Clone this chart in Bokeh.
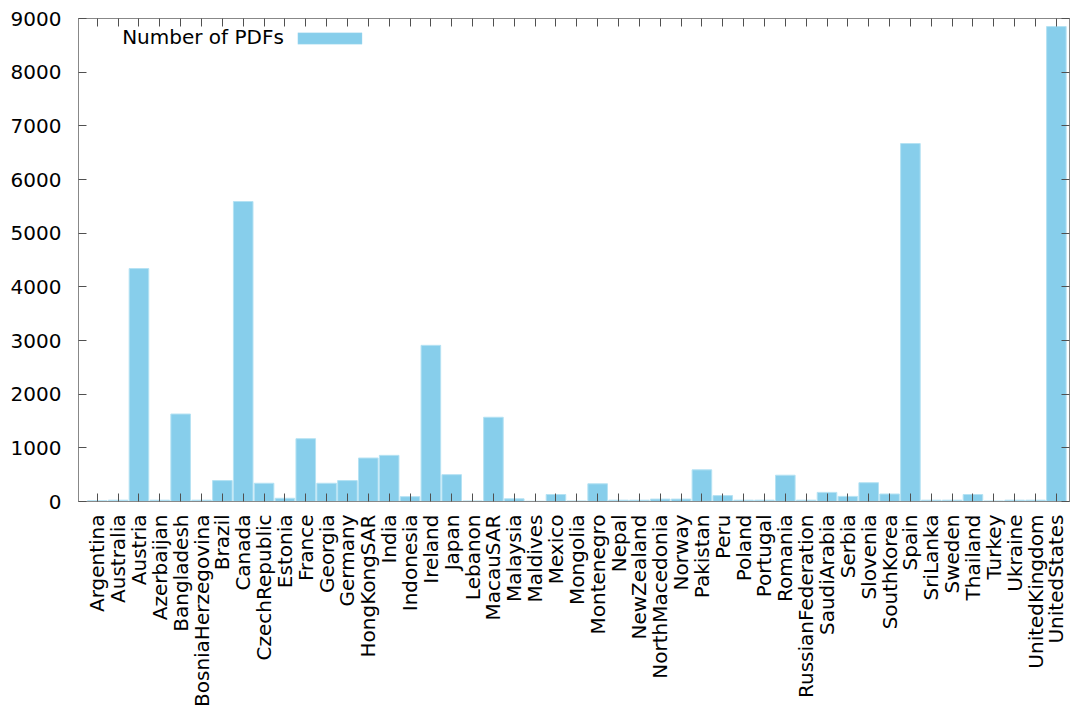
from bokeh.plotting import figure
from bokeh.models import Range1d, FixedTicker, LinearAxis, Label, BoxAnnotation, ColumnDataSource
from bokeh.embed import file_html
from bokeh.resources import INLINE
import math

countries = ["Argentina", "Australia", "Austria", "Azerbaijan", "Bangladesh",
             "BosniaHerzegovina", "Brazil", "Canada", "CzechRepublic", "Estonia",
             "France", "Georgia", "Germany", "HongKongSAR", "India", "Indonesia",
             "Ireland", "Japan", "Lebanon", "MacauSAR", "Malaysia", "Maldives",
             "Mexico", "Mongolia", "Montenegro", "Nepal", "NewZealand",
             "NorthMacedonia", "Norway", "Pakistan", "Peru", "Poland", "Portugal",
             "Romania", "RussianFederation", "SaudiArabia", "Serbia", "Slovenia",
             "SouthKorea", "Spain", "SriLanka", "Sweden", "Thailand", "Turkey",
             "Ukraine", "UnitedKingdom", "UnitedStates"]
pdfs = [15, 25, 4340, 25, 1630,
        25, 390, 5590, 340, 60,
        1170, 340, 390, 810, 860, 90,
        2910, 500, 10, 1570, 50, 5,
        130, 10, 330, 25, 25,
        45, 45, 590, 110, 25, 25,
        490, 25, 170, 95, 350,
        140, 6670, 25, 25, 130, 10,
        25, 25, 8850]
series_name = "Number of PDFs"
y_ticks = [0, 1000, 2000, 3000, 4000, 5000, 6000, 7000, 8000, 9000]

FONT = "DejaVu Sans"
AXIS_COLOR = "#888888"
TICK_COLOR = "#505050"

idx = list(range(len(countries)))
src = ColumnDataSource(dict(x=idx, top=pdfs, name=countries))

p = figure(width=1072, height=711, output_backend="svg", toolbar_location=None,
           x_range=Range1d(-0.9, len(countries) - 0.37), y_range=Range1d(0, 9000),
           min_border_left=78, min_border_right=3, min_border_top=18,
           min_border_bottom=210, x_axis_location="below", y_axis_location="left")

p.vbar(x="x", top="top", width=0.94, bottom=0, source=src,
       fill_color="#87CEEB", line_color="#b5e2f3", line_width=1)

p.xgrid.visible = False
p.ygrid.visible = False
p.outline_line_color = AXIS_COLOR
p.background_fill_color = "white"
p.border_fill_color = "white"

xt = FixedTicker(ticks=idx)
yt = FixedTicker(ticks=y_ticks)

xa = p.xaxis[0]
xa.ticker = xt
xa.major_label_overrides = {i: c for i, c in enumerate(countries)}
xa.major_label_orientation = math.pi / 2
xa.major_label_standoff = 13
ya = p.yaxis[0]
ya.ticker = yt
ya.major_label_standoff = 17

for ax in (xa, ya):
    ax.axis_line_color = AXIS_COLOR
    ax.major_tick_line_color = TICK_COLOR
    ax.major_tick_in = 8
    ax.major_tick_out = 0
    ax.minor_tick_line_color = None
    ax.major_label_text_font = FONT
    ax.major_label_text_font_size = "20px"
    ax.major_label_text_color = "black"

# mirrored tick axes (gnuplot border ticks), no labels
top_ax = LinearAxis(ticker=xt, major_label_overrides={i: "" for i in idx},
                    major_label_text_color=None,
                    axis_line_color=AXIS_COLOR, major_tick_line_color=TICK_COLOR,
                    major_tick_in=8, major_tick_out=0, minor_tick_line_color=None,
                    major_label_standoff=0)
right_ax = LinearAxis(ticker=yt, major_label_overrides={t: "" for t in y_ticks},
                      major_label_text_color=None,
                      axis_line_color=AXIS_COLOR, major_tick_line_color=TICK_COLOR,
                      major_tick_in=8, major_tick_out=0, minor_tick_line_color=None,
                      major_label_standoff=0)
p.add_layout(top_ax, "above")
p.add_layout(right_ax, "right")

# key (gnuplot style: text then sample)
p.add_layout(Label(x=8.95, y=8646, text=series_name, text_align="right",
                   text_baseline="middle", text_font=FONT, text_font_size="20px",
                   text_color="black"))
p.add_layout(BoxAnnotation(left=9.62, right=12.7, bottom=8521, top=8734,
                           fill_color="#87CEEB", fill_alpha=1.0,
                           line_color="#b5e2f3", line_width=1))

open("out.html", "w").write(file_html(p, INLINE))
